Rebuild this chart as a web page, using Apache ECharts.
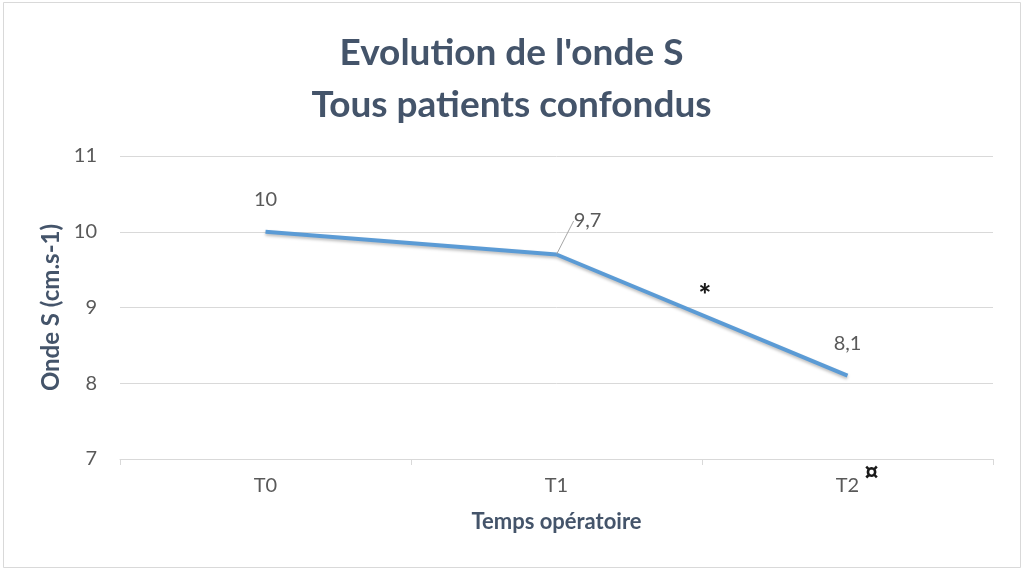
<!DOCTYPE html>
<html>
<head>
<meta charset="utf-8">
<script src="https://cdn.jsdelivr.net/npm/echarts@6/dist/echarts.min.js"></script>
<style>
  html, body { margin: 0; padding: 0; background: #fff; }
  #chart { width: 1023px; height: 571px; }
</style>
</head>
<body>
<div id="chart"></div>
<script>
// Temps opératoire (categories) and mean S-wave values
const categories = ['T0', 'T1', 'T2'];
const ondeS = [10, 9.7, 8.1];
const yTicks = [7, 8, 9, 10, 11];

const FONT = 'Lato, "Open Sans", sans-serif';
const TEXT_GREY = '#595959';
const TITLE_COLOR = '#44546A';

const chart = echarts.init(document.getElementById('chart'));

// only the T1 label is moved off its point, so only it gets a guide line
const seriesData = ondeS.map((v, i) => ({
  value: v,
  labelLine: { show: i === 1 }
}));

chart.setOption({
  animation: false,
  backgroundColor: '#fff',
  title: {
    text: "Evolution de l'onde S\nTous patients confondus",
    left: 'center',
    top: 22,
    textStyle: {
      fontFamily: FONT,
      fontSize: 37,
      fontWeight: 'bold',
      color: TITLE_COLOR,
      lineHeight: 52
    }
  },
  grid: { left: 120, right: 30, top: 156, bottom: 112 },
  xAxis: {
    type: 'category',
    data: categories,
    boundaryGap: true,
    name: 'Temps opératoire',
    nameLocation: 'middle',
    nameGap: 52,
    nameTextStyle: { fontFamily: FONT, fontSize: 22, fontWeight: 'bold', color: TITLE_COLOR },
    axisLine: { lineStyle: { color: '#d9d9d9', width: 1 } },
    axisTick: { show: true, length: 6, lineStyle: { color: '#d9d9d9' } },
    axisLabel: { fontFamily: FONT, fontSize: 20, color: TEXT_GREY, margin: 17 }
  },
  yAxis: {
    type: 'value',
    min: yTicks[0],
    max: yTicks[yTicks.length - 1],
    interval: 1,
    name: 'Onde S (cm.s-1)',
    nameLocation: 'middle',
    nameGap: 56,
    nameTextStyle: { fontFamily: FONT, fontSize: 24, fontWeight: 'bold', color: TITLE_COLOR },
    axisLine: { show: false },
    axisTick: { show: false },
    axisLabel: { fontFamily: FONT, fontSize: 20, color: TEXT_GREY, margin: 23 },
    splitLine: { lineStyle: { color: '#d9d9d9', width: 1 } }
  },
  series: [{
    type: 'line',
    data: seriesData,
    symbol: 'circle',
    symbolSize: 1,
    showSymbol: true,
    itemStyle: { color: 'rgba(0,0,0,0)' },
    lineStyle: {
      color: '#5B9BD5',
      width: 4,
      shadowColor: 'rgba(0,0,0,0.25)',
      shadowBlur: 3,
      shadowOffsetY: 2
    },
    label: {
      show: true,
      position: 'top',
      distance: 22,
      fontFamily: FONT,
      fontSize: 20,
      color: TEXT_GREY,
      formatter: p => String(p.value).replace('.', ',')
    },
    labelLine: { lineStyle: { color: '#a6a6a6', width: 1 } },
    labelLayout: function (params) {
      if (params.dataIndex === 1) {
        return { dx: 31, dy: -1 };
      }
      return {};
    }
  }]
});

// Significance markers: "*" between T1 and T2, "¤" beside T2
const pStar = chart.convertToPixel({ xAxisIndex: 0, yAxisIndex: 0 }, [1, 9.2]);
const pT1 = chart.convertToPixel({ xAxisIndex: 0, yAxisIndex: 0 }, [1, 7]);
const pT2 = chart.convertToPixel({ xAxisIndex: 0, yAxisIndex: 0 }, [2, 7]);
const starX = (pT1[0] + pT2[0]) / 2 + 3;

chart.setOption({
  graphic: [
    {
      type: 'rect',
      shape: { x: 3.5, y: 2.5, width: 1017, height: 565 },
      style: { fill: 'none', stroke: '#d9d9d9', lineWidth: 1 },
      silent: true
    },
    {
      type: 'text',
      x: starX,
      y: pStar[1] + 4,
      style: {
        text: '*',
        font: '900 30px ' + FONT,
        fill: '#1a1a1a',
        textAlign: 'center',
        textVerticalAlign: 'middle'
      }
    },
    {
      type: 'text',
      x: pT2[0] + 24,
      y: pT2[1] + 14,
      style: {
        text: '¤',
        font: '900 26px ' + FONT,
        fill: '#1a1a1a',
        textAlign: 'center',
        textVerticalAlign: 'middle'
      }
    }
  ]
});
</script>
</body>
</html>
